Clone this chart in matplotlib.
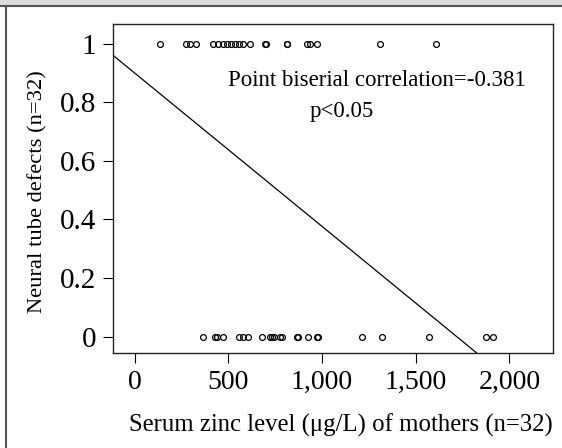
import matplotlib
matplotlib.use("Agg")
from matplotlib import pyplot as plt
from matplotlib.patches import Rectangle
from matplotlib.lines import Line2D

# serum zinc of mothers with NTD (y=1) and controls (y=0)
zinc_ntd = [136, 274, 296, 328, 420, 447, 474, 492, 512, 535, 558, 580, 616,
            697, 700, 811, 814, 918, 936, 972, 1310, 1609]
zinc_ctrl = [366, 429, 440, 470, 558, 580, 607, 678, 723, 732, 742, 777, 786,
             865, 870, 927, 972, 980, 1212, 1319, 1573, 1876, 1915]

# fitted line (two end points in data units)
fit_x = [-116, 1826]
fit_y = [0.96, -0.056]

xticks = [0, 500, 1000, 1500, 2000]
xticklabels = ["0", "500", "1,000", "1,500", "2,000"]
yticks = [0, 0.2, 0.4, 0.6, 0.8, 1]
yticklabels = ["0", "0.2", "0.4", "0.6", "0.8", "1"]

plt.rcParams['font.family'] = ['Liberation Serif', 'DejaVu Serif']

fig = plt.figure(figsize=(5.62, 4.48), dpi=100)
ax = fig.add_axes([0.201, 0.212, 0.783, 0.734])

ax.plot(zinc_ntd, [1] * len(zinc_ntd), 'o', mfc='none', mec='black', ms=4.2, mew=0.9)
ax.plot(zinc_ctrl, [0] * len(zinc_ctrl), 'o', mfc='none', mec='black', ms=4.2, mew=0.9)
ax.plot(fit_x, fit_y, color='black', lw=0.9)

ax.set_xlim(-116, 2233)
ax.set_ylim(-0.056, 1.066)
ax.set_xticks(xticks)
ax.set_xticklabels(xticklabels)
ax.set_yticks(yticks)
ax.set_yticklabels(yticklabels)
ax.tick_params(length=7, width=0.8)
ax.tick_params(axis='x', labelsize=20, pad=5)
ax.tick_params(axis='y', labelsize=21, pad=5)

for s in ax.spines.values():
    s.set_linewidth(1.0)
    s.set_color('#222222')

ax.set_xlabel("Serum zinc level (\u03bcg/L) of mothers (n=32)", fontsize=17.8)
ax.xaxis.set_label_coords(0.518, -0.219)
ax.xaxis.label.set_va('center')
ax.set_ylabel("Neural tube defects (n=32)", fontsize=16.2)
ax.yaxis.set_label_coords(-0.17, 0.49)
ax.yaxis.label.set_va('center')

ax.text(0.6, 0.83, "Point biserial correlation=-0.381", transform=ax.transAxes,
        ha='center', va='center', fontsize=16.5)
ax.text(0.52, 0.735, "p<0.05", transform=ax.transAxes,
        ha='center', va='center', fontsize=16.5)

# gray header band and frame lines
fig.patches.append(Rectangle((0, 1 - 6 / 448), 1, 6 / 448, transform=fig.transFigure,
                             facecolor='#dcdcdc', edgecolor='none'))
fig.lines.append(Line2D([0, 1], [1 - 6.5 / 448] * 2, transform=fig.transFigure,
                        color='#555555', lw=1.5))
fig.lines.append(Line2D([6 / 562] * 2, [0, 1 - 6.5 / 448], transform=fig.transFigure,
                        color='#555555', lw=1.5))

fig.savefig("out.png", dpi=100)
